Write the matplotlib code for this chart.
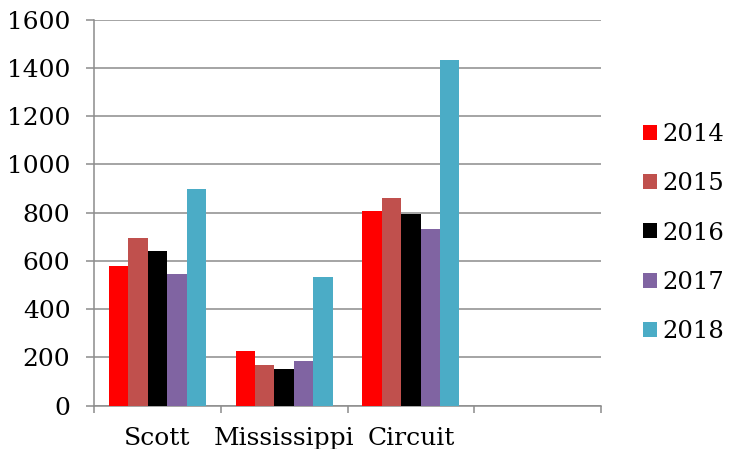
import matplotlib
matplotlib.use("Agg")
import matplotlib.pyplot as plt
import numpy as np

categories = ["Scott", "Mississippi", "Circuit", ""]
years = ["2014", "2015", "2016", "2017", "2018"]
v2014 = [580, 225, 808]
v2015 = [695, 169, 862]
v2016 = [641, 152, 795]
v2017 = [547, 186, 733]
v2018 = [900, 535, 1435]
colors = ["#FF0000", "#C0504D", "#000000", "#8064A2", "#4BACC6"]
yticks = [0, 200, 400, 600, 800, 1000, 1200, 1400, 1600]

series = [v2014, v2015, v2016, v2017, v2018]

plt.rcParams["font.family"] = ["DejaVu Serif"]
fig = plt.figure(figsize=(7.30, 4.49), dpi=100)
ax = fig.add_axes([94 / 730, 1 - 405.7 / 449, (601 - 94) / 730, (405.7 - 19.7) / 449])

grey = "#8c8c8c"
fs = 18
n = len(series)
group = 0.766
bw = group / n
x = np.arange(len(series[0])) + 0.5
for i, (vals, c, lab) in enumerate(zip(series, colors, years)):
    ax.bar(x - group / 2 + bw * (i + 0.5), vals, width=bw, color=c,
           label=lab, linewidth=0, zorder=3)

ax.set_xlim(0, len(categories))
ax.set_ylim(0, 1600)
ax.set_yticks(yticks)
ax.set_yticklabels([str(t) for t in yticks])
ax.yaxis.grid(True, color=grey, linewidth=1.1, zorder=0)
ax.set_axisbelow(True)

ax.set_xticks(np.arange(len(categories) + 1))
ax.set_xticklabels([])
ax.set_xticks(np.arange(len(categories)) + 0.5, minor=True)
ax.set_xticklabels(categories, minor=True)
ax.tick_params(axis="x", which="major", length=5, width=1.1, color=grey, direction="out")
ax.tick_params(axis="x", which="minor", length=0, pad=15, labelsize=fs)
ax.tick_params(axis="y", length=6, width=1.1, color=grey, pad=11, labelsize=fs)

for s in ["top", "right"]:
    ax.spines[s].set_visible(False)
for s in ["left", "bottom"]:
    ax.spines[s].set_color(grey)
    ax.spines[s].set_linewidth(1.1)

fig.legend(loc="center left", bbox_to_anchor=(643 / 730, 1 - 233 / 449),
           frameon=False, fontsize=17.5, handlelength=0.58, handleheight=0.58,
           handletextpad=0.22, labelspacing=1.08, borderaxespad=0, borderpad=0)

fig.savefig("out.png", dpi=100)
